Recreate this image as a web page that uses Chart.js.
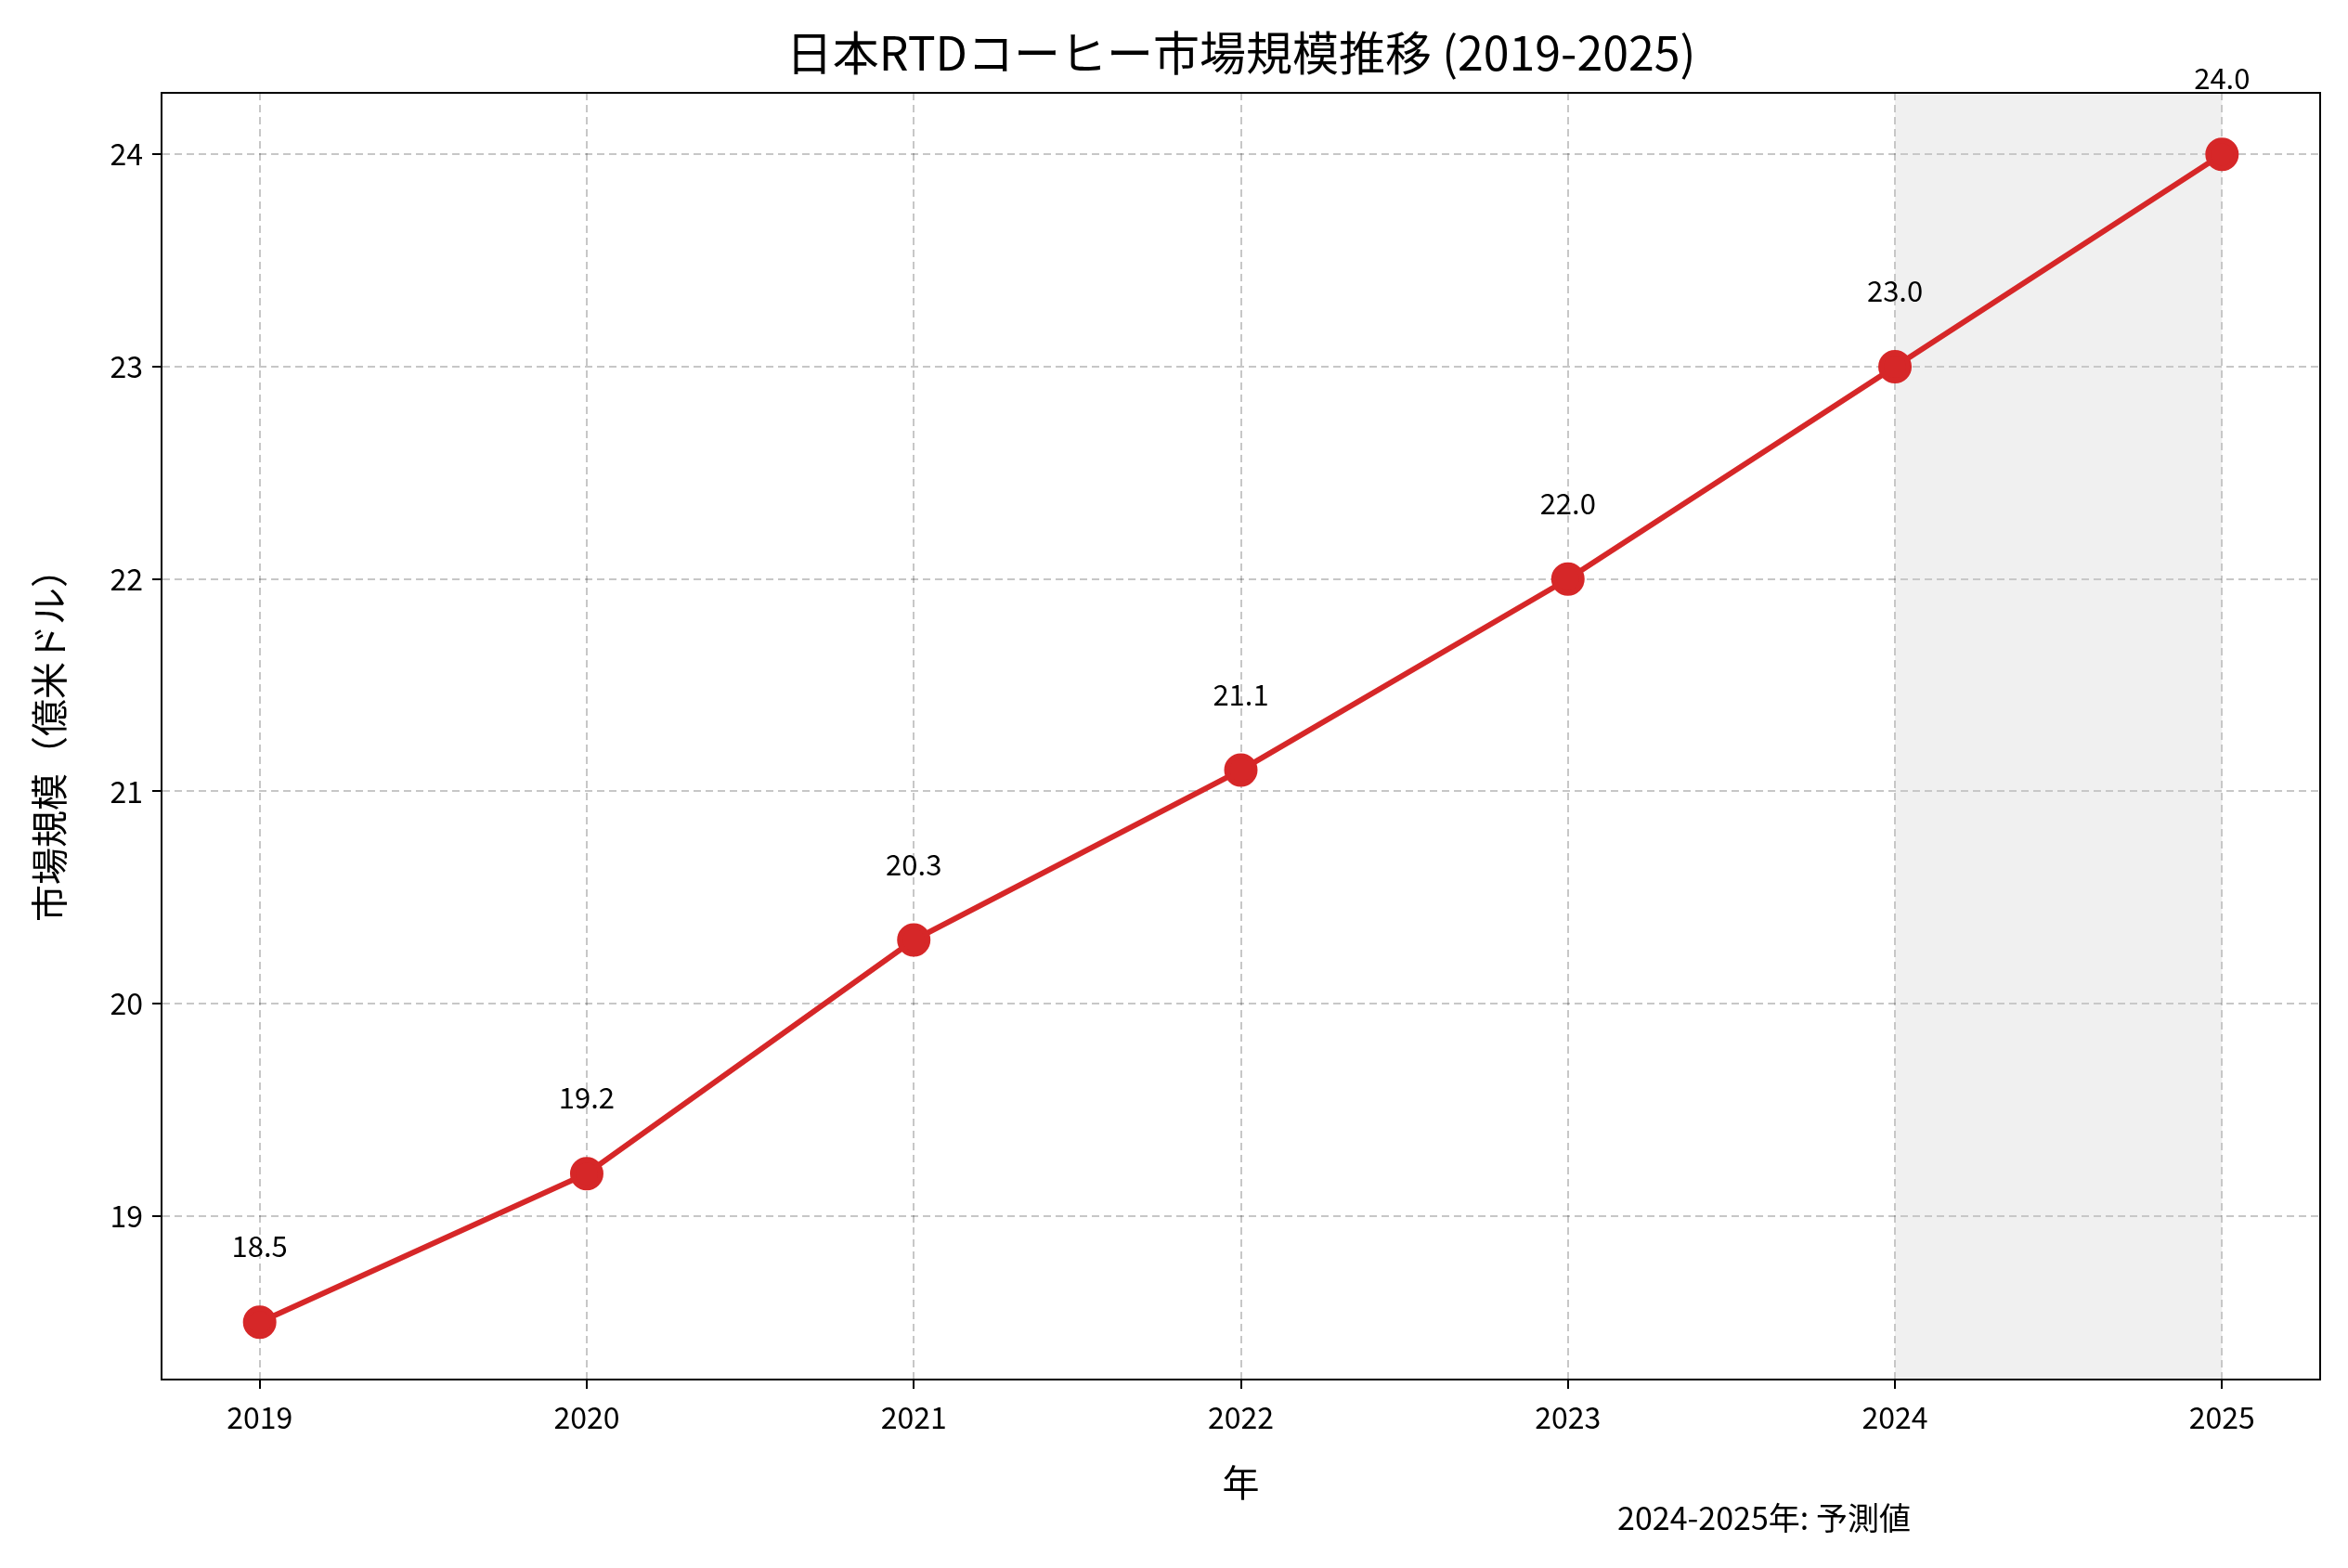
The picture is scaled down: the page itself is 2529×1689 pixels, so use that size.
<!DOCTYPE html>
<html><head><meta charset="utf-8">
<script src="https://cdn.jsdelivr.net/npm/chart.js@4"></script>
<style>html,body{margin:0;padding:0;background:#fff}#wrap{width:2529px;height:1689px}</style>
</head><body><div id="wrap"><canvas id="c" width="2529" height="1689"></canvas></div>
<script>
// data
const years = [2019, 2020, 2021, 2022, 2023, 2024, 2025];
const marketSize = [18.5, 19.2, 20.3, 21.1, 22.0, 23.0, 24.0];
const yTicks = [19, 20, 21, 22, 23, 24];
const forecastFrom = 2024, forecastTo = 2025;

const FONT = "'Noto Sans CJK JP', 'Noto Sans', sans-serif";
const RED = "#d62728";

// shaded forecast band + labels + titles
const extras = {
  id: "extras",
  beforeDatasetsDraw(chart){
    const {ctx, scales:{x,y}, chartArea:a} = chart;
    ctx.save();
    ctx.fillStyle = "rgba(200,200,200,0.27)";
    const x0 = x.getPixelForValue(forecastFrom), x1 = x.getPixelForValue(forecastTo);
    ctx.fillRect(x0, a.top, x1-x0, a.bottom-a.top);
    ctx.restore();
  },
  afterDraw(chart){
    const {ctx, scales:{x,y}, chartArea:a} = chart;
    ctx.save();
    ctx.fillStyle = "#000";
    ctx.textAlign = "center";
    ctx.textBaseline = "alphabetic";
    ctx.font = "31px " + FONT;
    years.forEach((yr,i)=>{
      ctx.fillText(marketSize[i].toFixed(1), x.getPixelForValue(yr), y.getPixelForValue(marketSize[i]) - 70);
    });
    ctx.font = "50px " + FONT;
    ctx.fillText("日本RTDコーヒー市場規模推移 (2019-2025)", (a.left+a.right)/2, 76);
    ctx.font = "40px " + FONT;
    ctx.fillText("年", (a.left+a.right)/2, 1612);
    ctx.font = "34px " + FONT;
    ctx.fillText("2024-2025年: 予測値", 1900, 1648);
    ctx.translate(68, (a.top+a.bottom)/2);
    ctx.rotate(-Math.PI/2);
    ctx.font = "40px " + FONT;
    ctx.fillText("市場規模（億米ドル）", 0, 0);
    ctx.restore();
  }
};

new Chart(document.getElementById("c"), {
  type: "line",
  data: { datasets: [{
    data: years.map((yr,i)=>({x:yr, y:marketSize[i]})),
    borderColor: RED, backgroundColor: RED, borderWidth: 6,
    pointRadius: 15, pointHoverRadius: 15, pointBackgroundColor: RED, pointBorderColor: RED
  }]},
  options: {
    responsive: false, animation: false, devicePixelRatio: 1,
    layout: { padding: { top: 100, right: 30, left: 0, bottom: 0 } },
    plugins: { legend: {display:false}, title: {display:false}, tooltip: {enabled:false} },
    scales: {
      x: {
        type: "linear", min: 2018.7, max: 2025.3,
        afterBuildTicks: s => { s.ticks = years.map(v=>({value:v})); },
        afterFit: s => { s.height = 203; },
        ticks: { color:"#000", font:{size:32, family:FONT}, padding: 12, callback: v => String(v) },
        grid: { color:"rgba(0,0,0,0.22)", lineWidth: 2, tickColor:"#000", tickLength: 10 },
        border: { color:"#000", width: 2, dash: [8,5] }
      },
      y: {
        min: 18.23, max: 24.29,
        afterBuildTicks: s => { s.ticks = yTicks.map(v=>({value:v})); },
        afterFit: s => { s.width = 174; },
        ticks: { color:"#000", font:{size:32, family:FONT}, padding: 10 },
        grid: { color:"rgba(0,0,0,0.22)", lineWidth: 2, tickColor:"#000", tickLength: 10 },
        border: { color:"#000", width: 2, dash: [8,5] }
      }
    }
  },
  plugins: [extras, {
    id: "frame",
    afterDraw(chart){
      const {ctx, chartArea:a} = chart;
      ctx.save(); ctx.strokeStyle="#000"; ctx.lineWidth=2;
      ctx.strokeRect(a.left, a.top, a.right-a.left, a.bottom-a.top);
      ctx.restore();
    }
  }]
});
</script></body></html>
